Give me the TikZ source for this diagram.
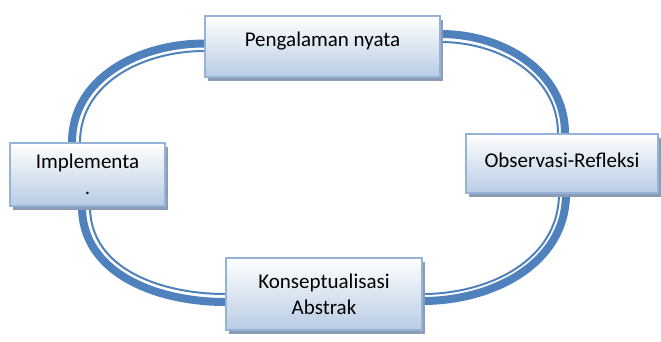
\documentclass[tikz,border=0pt]{standalone}
\usepackage{fontspec}
\setmainfont{Carlito}
\usetikzlibrary{positioning, shadows, backgrounds}
\definecolor{ringblue}{RGB}{79,129,189}
\definecolor{boxline}{RGB}{149,179,215}
\definecolor{boxfill}{RGB}{184,204,228}
\definecolor{boxshadow}{RGB}{140,156,180}
\tikzset{
  kolb/.style={
	x=1pt, y=-1pt, % pixel units, y grows downwards
	node distance=235pt, % distance between the centres of two stages
  },
  stage/.style={
	draw=boxline, line width=1.2pt, % light blue frame
	top color=white, bottom color=boxfill, % white at the top, blue at the bottom
	drop shadow={shadow xshift=3pt, shadow yshift=-4pt, fill=boxshadow, opacity=1},
	inner sep=0pt, align=center,
	font=\fontsize{21}{26}\selectfont,
  },
  ringouter/.style={draw=ringblue, line width=8pt}, % thick outer line of the ring
  ringinner/.style={draw=ringblue, line width=2pt}, % thin inner line of the ring
}

\begin{document}
\begin{tikzpicture}[kolb]
	  \useasboundingbox (0,0) rectangle (661,341);
	  \node[stage, minimum width=155pt, minimum height=63pt] (impl) at (87.5,174.5) {Implementa\\.};
	  \node[stage, minimum width=235pt, minimum height=61pt, text height=13pt, text depth=14pt, right of=impl, yshift=128pt, xshift=0pt] (peng) {Pengalaman nyata};
	  \node[stage, minimum width=192pt, minimum height=59pt, text height=13pt, text depth=6pt, right of=peng, yshift=-117pt, xshift=4.5pt] (obs) {Observasi-Refleksi};
	  \node[stage, minimum width=196pt, minimum height=72pt, right of=impl, yshift=-119.5pt, xshift=1.5pt] (konsep) {Konseptualisasi\\Abstrak};
	  \begin{scope}[on background layer]
		  \draw[ringouter] ([xshift=-15.5pt]impl.north) to[out=90, in=180] ([yshift=3pt]peng.west);
		  \draw[ringinner] ([xshift=-7.5pt]impl.north) to[out=90, in=180] ([yshift=-4.5pt]peng.west);
		  \draw[ringouter] ([yshift=12.5pt]peng.east) to[out=0, in=90] ([xshift=3pt]obs.north);
		  \draw[ringinner] ([yshift=4.5pt]peng.east) to[out=0, in=90] ([xshift=-4pt]obs.north);
		  \draw[ringouter] ([xshift=4pt]obs.south) to[out=-90, in=0] ([yshift=-7pt]konsep.east);
		  \draw[ringinner] ([xshift=-3pt]obs.south) to[out=-90, in=0] (konsep.east);
		  \draw[ringouter] ([xshift=-5.5pt]impl.south) to[out=-90, in=180] ([yshift=-8pt]konsep.west);
		  \draw[ringinner] ([xshift=2.5pt]impl.south) to[out=-90, in=180] (konsep.west);
	  \end{scope}
\end{tikzpicture}
\end{document}
